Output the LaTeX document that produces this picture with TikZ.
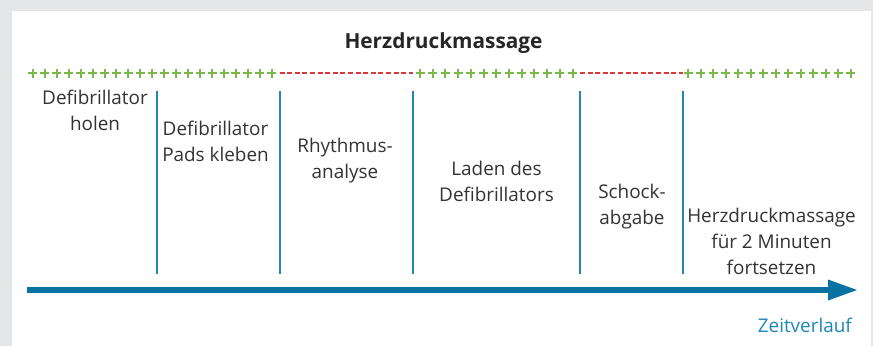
\documentclass[tikz,border=0pt]{standalone}
\usepackage{fontspec}
\setmainfont{Open Sans}
\definecolor{bggrey}{HTML}{E5E6E8}
\definecolor{plusgreen}{HTML}{7BB84A}
\definecolor{dashred}{HTML}{D8393F}
\definecolor{sepblue}{HTML}{2387B3}
\definecolor{arrowblue}{HTML}{0A72A0}
\definecolor{timeblue}{HTML}{1E86B8}
\definecolor{txt}{HTML}{333333}
\begin{document}
\begin{tikzpicture}[x=1pt,y=-1pt,
  lbl/.style={align=center,text=txt,font=\fontsize{18.9}{26}\selectfont,inner sep=0pt,anchor=base},
  sep/.style={draw=sepblue,line width=1.3pt},
  reddash/.style={draw=dashred,line width=2.2pt,dash pattern=on 5pt off 2.6pt},
  plusmark/.style={draw=plusgreen,line width=2pt}]
\useasboundingbox (0,0) rectangle (873,346);
\fill[bggrey] (0,0) rectangle (873,346);
\fill[white] (12,11) rectangle (871,346);
% title
\node[font=\bfseries\fontsize{20.8}{22}\selectfont,text=black!85,inner sep=0pt,anchor=base] (title) at (443.5,48) {Herzdruckmassage};
% plus segments
\foreach \i in {0,...,20} {\draw[plusmark] ({32.8+11.95*\i-4.5},73) -- ++(9,0) ({32.8+11.95*\i},68.5) -- ++(0,9);}
\foreach \i in {0,...,12} {\draw[plusmark] ({420+12.72*\i-4.5},73) -- ++(9,0) ({420+12.72*\i},68.5) -- ++(0,9);}
\foreach \i in {0,...,13} {\draw[plusmark] ({688.3+12.49*\i-4.5},73) -- ++(9,0) ({688.3+12.49*\i},68.5) -- ++(0,9);}
\coordinate (r1a) at (279.5,73); \coordinate (r1b) at (413,73);
\coordinate (r2a) at (580,73); \coordinate (r2b) at (683,73);
\draw[reddash] (r1a) -- (r1b);
\draw[reddash] (r2a) -- (r2b);
% separators
\foreach \x/\n in {157/s1,280/s2,413/s3,580/s4,683/s5} {
  \coordinate (\n t) at (\x,91); \coordinate (\n b) at (\x,274);
  \draw[sep] (\n t) -- (\n b);}
% labels (anchor at baseline of last line)
\node[lbl] (l1) at (95,130) {Defibrillator\\holen};
\node[lbl] (l2) at (215.5,161.5) {Defibrillator\\Pads kleben};
\node[lbl] (l3) at (345,178) {Rhythmus-\\analyse};
\node[lbl] (l4) at (496.5,201.5) {Laden des\\Defibrillators};
\node[lbl] (l5) at (632,224.5) {Schock-\\abgabe};
\node[lbl] (l6) at (771.5,274) {Herzdruckmassage\\für 2 Minuten\\fortsetzen};
% time arrow
\coordinate (a0) at (27,290);
\coordinate (a1) at (829,290);
\draw[arrowblue,line width=6pt] (a0) -- (a1);
\fill[arrowblue] (828,279.5) -- (857,290) -- (828,300.5) -- cycle;
\node[text=timeblue,font=\fontsize{18.9}{20}\selectfont,inner sep=0pt,anchor=base east] (zeit) at (852,332) {Zeitverlauf};
\end{tikzpicture}
\end{document}
